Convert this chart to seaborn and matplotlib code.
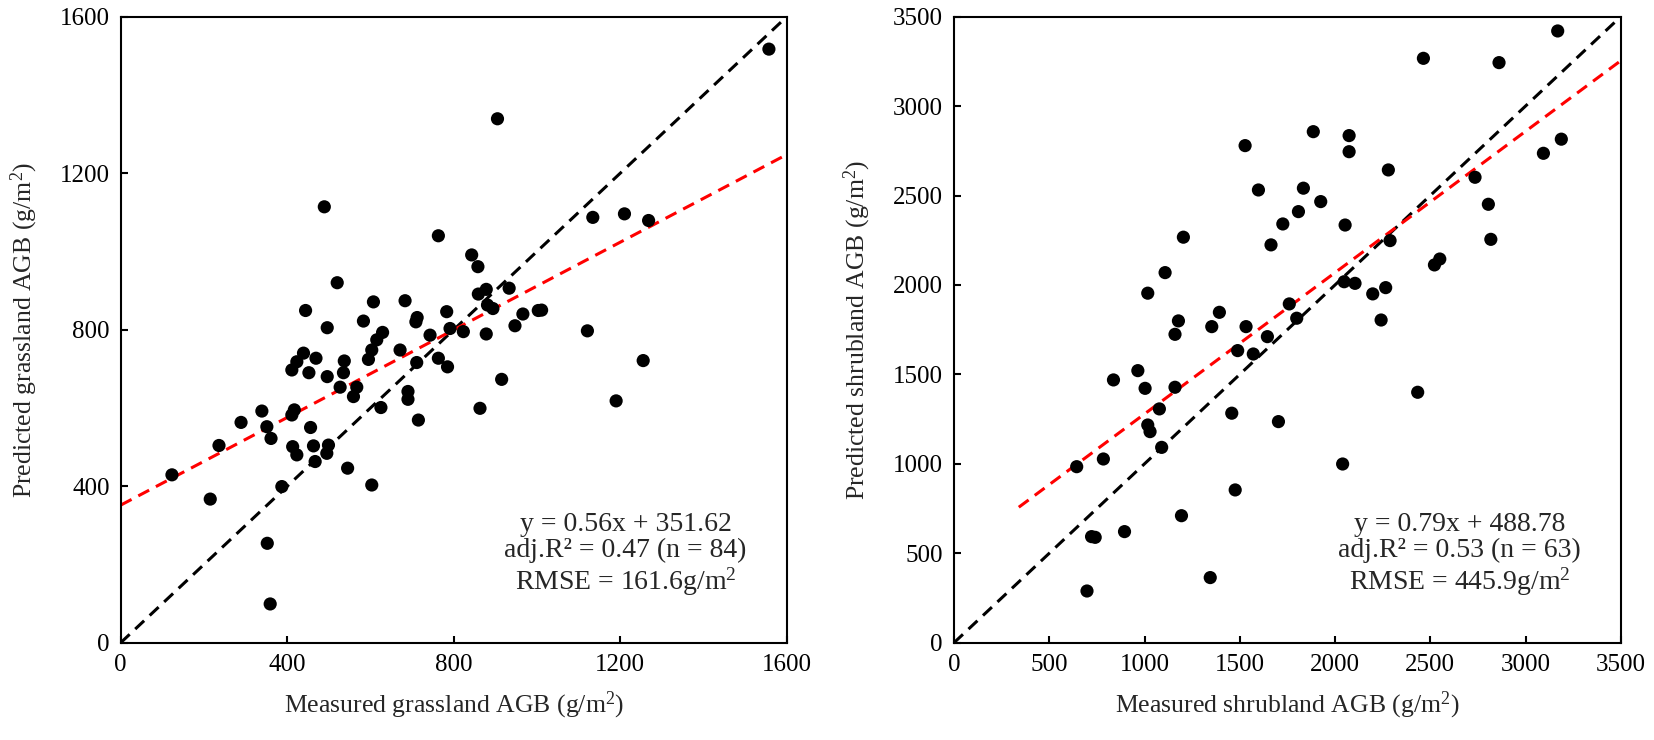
import matplotlib
matplotlib.use("Agg")
import matplotlib.pyplot as plt
import seaborn as sns
import numpy as np
import pandas as pd

# grassland: measured vs predicted AGB (g/m2)
grass_measured = [
    444, 496, 583, 607, 683, 712, 709, 783, 791, 823, 743, 671, 629, 615, 603,
    595, 711, 763, 785, 439, 469, 423, 411, 452, 496, 537, 535, 527, 567, 559,
    690, 690, 625, 715, 339, 289, 351, 361, 417, 411, 456, 413, 423, 463, 467,
    499, 495, 545, 603, 387, 236, 123, 215, 352, 359, 763, 843, 858, 1134, 1210,
    1268, 878, 859, 933, 881, 894, 966, 947, 1003, 1011, 878, 1121, 1255, 915,
    1190, 863, 1557, 905, 489, 520,
]
grass_predicted = [
    849, 805, 822, 871, 874, 831, 820, 846, 803, 795, 786, 748, 793, 774, 748,
    724, 716, 727, 705, 740, 727, 718, 697, 690, 680, 720, 690, 653, 653, 629,
    642, 622, 601, 569, 592, 563, 552, 522, 595, 582, 550, 501, 480, 503, 463,
    505, 484, 446, 403, 399, 504, 429, 367, 254, 99, 1040, 991, 961, 1087, 1096,
    1079, 903, 891, 906, 863, 854, 840, 810, 849, 850, 789, 797, 721, 673,
    618, 599, 1517, 1339, 1114, 920,
]

# shrubland: measured vs predicted AGB (g/m2)
shrub_measured = [
    1726, 1664, 1204, 1108, 1017, 1178, 1160, 1393, 1353, 1533, 1760, 1799, 1645,
    1489, 1571, 837, 965, 1003, 1160, 1078, 1017, 1029, 1458, 1703, 1090, 784,
    644, 3169, 2464, 2861, 1528, 1886, 2074, 2074, 2280, 1598, 1834, 1925, 1808,
    2053, 2289, 2735, 2805, 2818, 3094, 3188, 2550, 2522, 2048, 2105, 2198, 2266,
    2040, 1476, 1194, 722, 741, 895, 698, 1345, 2242, 2434,
]
shrub_predicted = [
    2341, 2224, 2267, 2069, 1954, 1799, 1724, 1847, 1767, 1767, 1894, 1814, 1711,
    1633, 1614, 1469, 1521, 1422, 1428, 1307, 1217, 1180, 1283, 1236, 1092, 1027,
    984, 3420, 3267, 3243, 2779, 2857, 2835, 2745, 2643, 2531, 2541, 2466, 2410,
    2335, 2248, 2602, 2451, 2255, 2736, 2815, 2145, 2112, 2018, 2009, 1950, 1985,
    999, 854, 710, 593, 589, 621, 289, 364, 1804, 1400,
]

grass_fit = (0.56, 351.62)
shrub_fit = (0.79, 488.78)
grass_fit_range = (0, 1600)
shrub_fit_range = (340, 3500)

grass_text = "y = 0.56x + 351.62\nadj.R\u00b2 = 0.47 (n = 84)\nRMSE = 161.6g/m$^2$"
shrub_text = "y = 0.79x + 488.78\nadj.R\u00b2 = 0.53 (n = 63)\nRMSE = 445.9g/m$^2$"

sns.set_theme(style="ticks")
plt.rcParams["font.family"] = ["Liberation Serif", "DejaVu Serif"]
plt.rcParams["mathtext.fontset"] = "custom"
plt.rcParams["mathtext.rm"] = "Liberation Serif"
plt.rcParams["mathtext.it"] = "Liberation Serif:italic"
plt.rcParams["axes.linewidth"] = 1.5

fig = plt.figure(figsize=(16.54, 7.4), dpi=100)
ax1 = fig.add_axes([0.073, 0.1315, 0.4027, 0.846])
ax2 = fig.add_axes([0.5768, 0.1315, 0.4031, 0.846])


def draw_panel(ax, measured, predicted, fit, fit_range, lim, step, xlabel, ylabel, note):
    df = pd.DataFrame({"measured": measured, "predicted": predicted})
    # 1:1 line
    ax.plot([0, lim], [0, lim], color="black", lw=2.2, dashes=(4, 2.5), zorder=2)
    # regression line
    fx = np.array(fit_range)
    ax.plot(fx, fit[0] * fx + fit[1], color="#ff0000", lw=2.2, dashes=(4, 2.5), zorder=2)
    sns.scatterplot(data=df, x="measured", y="predicted", ax=ax, color="black",
                    s=90, edgecolor="none", zorder=3)
    ax.set_xlim(0, lim)
    ax.set_ylim(0, lim)
    ticks = np.arange(0, lim + 1, step)
    ax.set_xticks(ticks)
    ax.set_yticks(ticks)
    ax.tick_params(direction="in", length=5, width=1.5, labelsize=18, pad=8,
                   colors="black")
    ax.set_xlabel(xlabel, fontsize=18.5, labelpad=10)
    ax.set_ylabel(ylabel, fontsize=18.5, labelpad=14)
    for sp in ax.spines.values():
        sp.set_color("black")
        sp.set_linewidth(1.5)
    ax.text(0.94, 0.085, note, transform=ax.transAxes, ha="right", va="baseline",
            multialignment="center", fontsize=20, linespacing=1.08)


draw_panel(ax1, grass_measured, grass_predicted, grass_fit, grass_fit_range, 1600, 400,
           "Measured grassland AGB (g/m$^2$)", "Predicted grassland AGB (g/m$^2$)",
           grass_text)
draw_panel(ax2, shrub_measured, shrub_predicted, shrub_fit, shrub_fit_range, 3500, 500,
           "Measured shrubland AGB (g/m$^2$)", "Predicted shrubland AGB (g/m$^2$)",
           shrub_text)

fig.savefig("out.png", dpi=100, facecolor="white")
plt.close(fig)
